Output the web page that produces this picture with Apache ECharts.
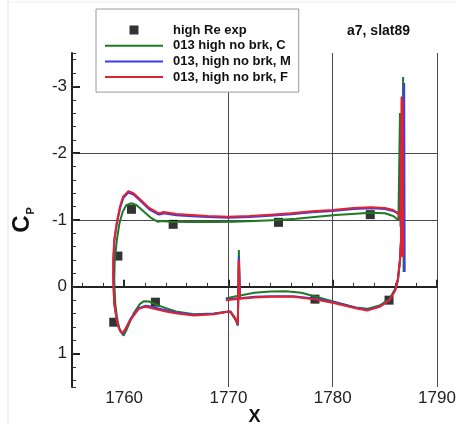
<!DOCTYPE html>
<html><head><meta charset="utf-8">
<script src="https://cdn.jsdelivr.net/npm/echarts@6/dist/echarts.min.js"></script>
<style>html,body{margin:0;padding:0;background:#fff}#c{width:456px;height:424px}</style>
</head><body><div id="c"></div>
<script>
// ---- data ----
const xTickValues = [1760, 1770, 1780, 1790];
const yTickValues = [-3, -2, -1, 0, 1];
const legendNames = ['high Re exp', '013 high no brk, C', '013, high no brk, M', '013, high no brk, F'];

const expX  = [1759.0, 1759.4, 1760.7, 1763.0, 1764.7, 1774.8, 1778.3, 1783.6, 1785.4];
const expCp = [0.53, -0.46, -1.16, 0.23, -0.935, -0.965, 0.185, -1.08, 0.2];

// Coarse grid (C), green
const cSeg1 = [[1771.1,0.13],[1771.0,-0.55],[1770.9,0.58],[1770.7,0.5],[1770.2,0.38],[1769.9,0.375],[1768.6,0.40],[1766.7,0.41],[1765.1,0.375],[1764.0,0.32],[1763.2,0.275],[1762.4,0.22],[1761.9,0.215],[1761.5,0.26],[1760.9,0.40],[1760.3,0.62],[1759.95,0.73],[1759.6,0.66],[1759.35,0.5],[1759.15,0.25],[1759.05,-0.1],[1759.1,-0.4],[1759.3,-0.7],[1759.55,-0.95],[1759.85,-1.12],[1760.2,-1.22],[1760.7,-1.25],[1761.2,-1.22],[1761.8,-1.14],[1762.5,-1.04],[1763.2,-0.975],[1763.6,-0.985],[1764.5,-0.975],[1766.5,-0.97],[1768.5,-0.97],[1770.5,-0.975],[1772.5,-0.985],[1774.7,-1.0],[1776.5,-1.02],[1778.5,-1.05],[1780.3,-1.075],[1782.2,-1.095],[1783.7,-1.11],[1785.0,-1.10],[1785.8,-1.06],[1786.3,-1.0],[1786.45,-2.6],[1786.5,-0.9]];
const cSeg2 = [[1769.75,0.175],[1770.5,0.15],[1771.1,0.13],[1772.5,0.09],[1774.0,0.07],[1775.5,0.065],[1777.0,0.09],[1778.4,0.15],[1780.3,0.23],[1782.2,0.31],[1783.3,0.33],[1784.5,0.28],[1785.45,0.18],[1786.0,0.03],[1786.25,-0.12],[1786.45,-0.4],[1786.6,-0.8],[1786.7,-1.0],[1786.75,-3.14],[1786.8,-0.22]];

// Medium grid (M), blue
const mSeg1 = [[1771.1,0.17],[1771.0,-0.45],[1770.9,0.57],[1770.7,0.49],[1770.2,0.37],[1769.9,0.375],[1768.6,0.405],[1766.7,0.42],[1765.1,0.39],[1764.0,0.35],[1763.2,0.32],[1762.4,0.29],[1762.0,0.285],[1761.4,0.32],[1760.6,0.48],[1759.9,0.71],[1759.5,0.62],[1759.3,0.5],[1759.05,0.25],[1758.97,-0.1],[1758.97,-0.4],[1759.07,-0.7],[1759.32,-0.96],[1759.62,-1.18],[1759.92,-1.33],[1760.4,-1.41],[1760.9,-1.38],[1761.6,-1.28],[1762.4,-1.16],[1763.2,-1.09],[1763.4,-1.08],[1763.8,-1.10],[1765.0,-1.07],[1766.5,-1.055],[1768.0,-1.045],[1770.0,-1.035],[1772.0,-1.045],[1774.0,-1.065],[1776.0,-1.085],[1778.0,-1.115],[1780.0,-1.135],[1782.0,-1.165],[1783.7,-1.175],[1785.0,-1.165],[1785.8,-1.135],[1786.3,-1.09],[1786.5,-1.0],[1786.55,-2.45],[1786.6,-0.5]];
const mSeg2 = [[1769.75,0.19],[1771.1,0.17],[1772.5,0.15],[1774.0,0.14],[1776.2,0.14],[1778.4,0.18],[1780.3,0.24],[1782.2,0.315],[1783.3,0.345],[1784.5,0.295],[1785.45,0.195],[1786.0,0.045],[1786.25,-0.1],[1786.45,-0.4],[1786.55,-0.7],[1786.6,-1.0],[1786.85,-3.05],[1786.9,-0.22]];

// Fine grid (F), red
const fSeg1 = [[1771.1,0.18],[1771.0,-0.40],[1770.9,0.56],[1770.7,0.48],[1770.2,0.37],[1769.9,0.375],[1768.6,0.41],[1766.7,0.43],[1765.1,0.40],[1764.0,0.37],[1763.2,0.34],[1762.4,0.31],[1762.0,0.30],[1761.4,0.33],[1760.6,0.50],[1759.85,0.70],[1759.5,0.62],[1759.3,0.5],[1759.05,0.25],[1758.95,-0.1],[1758.95,-0.4],[1759.05,-0.7],[1759.3,-0.97],[1759.6,-1.2],[1759.9,-1.35],[1760.4,-1.43],[1760.9,-1.40],[1761.6,-1.30],[1762.4,-1.18],[1763.2,-1.11],[1763.4,-1.10],[1763.8,-1.12],[1765.0,-1.09],[1766.5,-1.075],[1768.0,-1.06],[1770.0,-1.05],[1772.0,-1.06],[1774.0,-1.08],[1776.0,-1.10],[1778.0,-1.13],[1780.0,-1.15],[1782.0,-1.18],[1783.7,-1.19],[1785.0,-1.18],[1785.8,-1.15],[1786.3,-1.10],[1786.5,-1.0],[1786.6,-2.85],[1786.65,-0.45]];
const fSeg2 = [[1769.75,0.20],[1771.1,0.18],[1772.5,0.16],[1774.0,0.15],[1776.2,0.15],[1778.4,0.19],[1780.3,0.25],[1782.2,0.32],[1783.3,0.355],[1784.5,0.30],[1785.45,0.20],[1786.0,0.05],[1786.25,-0.1],[1786.45,-0.4],[1786.55,-0.7],[1786.6,-1.0],[1786.7,-2.8],[1786.75,-0.45]];

// ---- chart ----
const FONT = '"Liberation Sans", Arial, Helvetica, sans-serif';
const GREEN = '#1f7a22', BLUE = '#3b3bf2', RED = '#e2232d';
const LINE_ICON = 'path://M0,0L58,0L58,2L0,2Z';
const chart = echarts.init(document.getElementById('c'), null, {renderer: 'canvas', width: 456, height: 424});

function lineSeries(name, data, color) {
  return {
    type: 'line', name: name, data: data, symbol: 'none', showSymbol: false,
    smooth: false, animation: false, clip: true,
    lineStyle: {width: 2, color: color}, itemStyle: {color: color},
    xAxisIndex: 0, yAxisIndex: 0
  };
}

const option = {
  backgroundColor: '#ffffff',
  animation: false,
  graphic: [
    {type: 'line', shape: {x1: 8, y1: 0, x2: 8, y2: 424}, style: {stroke: '#e4e4e4', lineWidth: 1}, silent: true},
    {type: 'line', shape: {x1: 8, y1: 2, x2: 456, y2: 2}, style: {stroke: '#ececec', lineWidth: 1}, silent: true}
  ],
  title: {
    text: 'a7, slat89', left: 347, top: 24, padding: 0,
    textStyle: {fontFamily: FONT, fontSize: 14, fontWeight: 'bold', color: '#111'}
  },
  legend: {
    orient: 'vertical', left: 96, top: 9,
    padding: [14, 8, 8, 9],
    backgroundColor: '#ffffff', borderColor: '#9a9a9a', borderWidth: 1,
    itemWidth: 58, itemHeight: 9, itemGap: 1.7,
    symbolKeepAspect: true,
    textStyle: {fontFamily: FONT, fontSize: 13, fontWeight: 'bold', color: '#111', lineHeight: 14, padding: [0, 0, 0, 5]},
    data: [
      {name: legendNames[0], icon: 'path://M0,0L10,0L10,10L0,10Z', itemStyle: {color: '#000'}},
      {name: legendNames[1], icon: LINE_ICON, itemStyle: {color: GREEN}},
      {name: legendNames[2], icon: LINE_ICON, itemStyle: {color: BLUE}},
      {name: legendNames[3], icon: LINE_ICON, itemStyle: {color: RED}}
    ]
  },
  grid: {left: 72, right: 19, top: 53, bottom: 37, containLabel: false, outerBoundsMode: 'none'},
  xAxis: [
    {
      type: 'value', min: 1755, max: 1790, position: 'bottom',
      name: 'X', nameLocation: 'middle', nameGap: 21, nameMoveOverlap: false,
      nameTextStyle: {fontFamily: FONT, fontSize: 18, fontWeight: 'bold', color: '#111'},
      axisLine: {show: true, lineStyle: {color: '#222', width: 2}},
      axisTick: {show: true, inside: true, length: 7, lineStyle: {color: '#222', width: 2}, customValues: xTickValues},
      axisLabel: {show: true, margin: 3, fontFamily: FONT, fontSize: 17, color: '#222', customValues: xTickValues,
        formatter: v => (v % 10 === 0 ? String(v) : '')},
      splitLine: {show: true, showMinLine: false, showMaxLine: true, lineStyle: {color: '#4a4a4a', width: 1}},
      minorTick: {show: false}
    },
    {
      type: 'value', min: 1755, max: 1790, position: 'bottom', splitNumber: 18,
      axisLine: {show: false}, axisLabel: {show: false}, splitLine: {show: false},
      axisTick: {show: true, inside: true, length: 4, lineStyle: {color: '#333', width: 1}}
    }
  ],
  yAxis: [
    {
      type: 'value', min: -3.5, max: 1.5, inverse: true, position: 'left',
      name: '{c|C}{p|P}', nameLocation: 'middle', nameRotate: 90, nameGap: 38, nameMoveOverlap: false,
      nameTextStyle: {
        rich: {
          c: {fontFamily: FONT, fontSize: 24, fontWeight: 'bold', color: '#111', lineHeight: 24, verticalAlign: 'bottom'},
          p: {fontFamily: FONT, fontSize: 11, fontWeight: 'bold', color: '#111', lineHeight: 11, verticalAlign: 'bottom', padding: [0, 0, -2, 1]}
        }
      },
      axisLine: {show: true, lineStyle: {color: '#222', width: 2}},
      axisTick: {show: true, inside: true, length: 8, lineStyle: {color: '#222', width: 2}, customValues: yTickValues},
      axisLabel: {show: true, margin: 5, fontFamily: FONT, fontSize: 17, color: '#222', customValues: yTickValues,
        formatter: v => (Number.isInteger(v) ? String(v) : '')},
      splitLine: {show: true, showMinLine: false, showMaxLine: false, lineStyle: {color: '#4a4a4a', width: 1}},
      minorTick: {show: false}
    },
    {
      type: 'value', min: -3.5, max: 1.5, inverse: true, position: 'left', splitNumber: 25,
      axisLine: {show: false}, axisLabel: {show: false}, splitLine: {show: false},
      axisTick: {show: true, inside: true, length: 4, lineStyle: {color: '#333', width: 1}}
    }
  ],
  series: [
    {
      type: 'scatter', name: legendNames[0], data: expX.map((x, i) => [x, expCp[i]]),
      symbol: 'rect', symbolSize: 9, itemStyle: {color: '#000'}, xAxisIndex: 0, yAxisIndex: 0, animation: false
    },
    lineSeries(legendNames[1], cSeg1, GREEN),
    lineSeries(legendNames[1], cSeg2, GREEN),
    lineSeries(legendNames[2], mSeg1, BLUE),
    lineSeries(legendNames[2], mSeg2, BLUE),
    lineSeries(legendNames[3], fSeg1, RED),
    lineSeries(legendNames[3], fSeg2, RED)
  ]
};
chart.setOption(option);
</script>
</body></html>
